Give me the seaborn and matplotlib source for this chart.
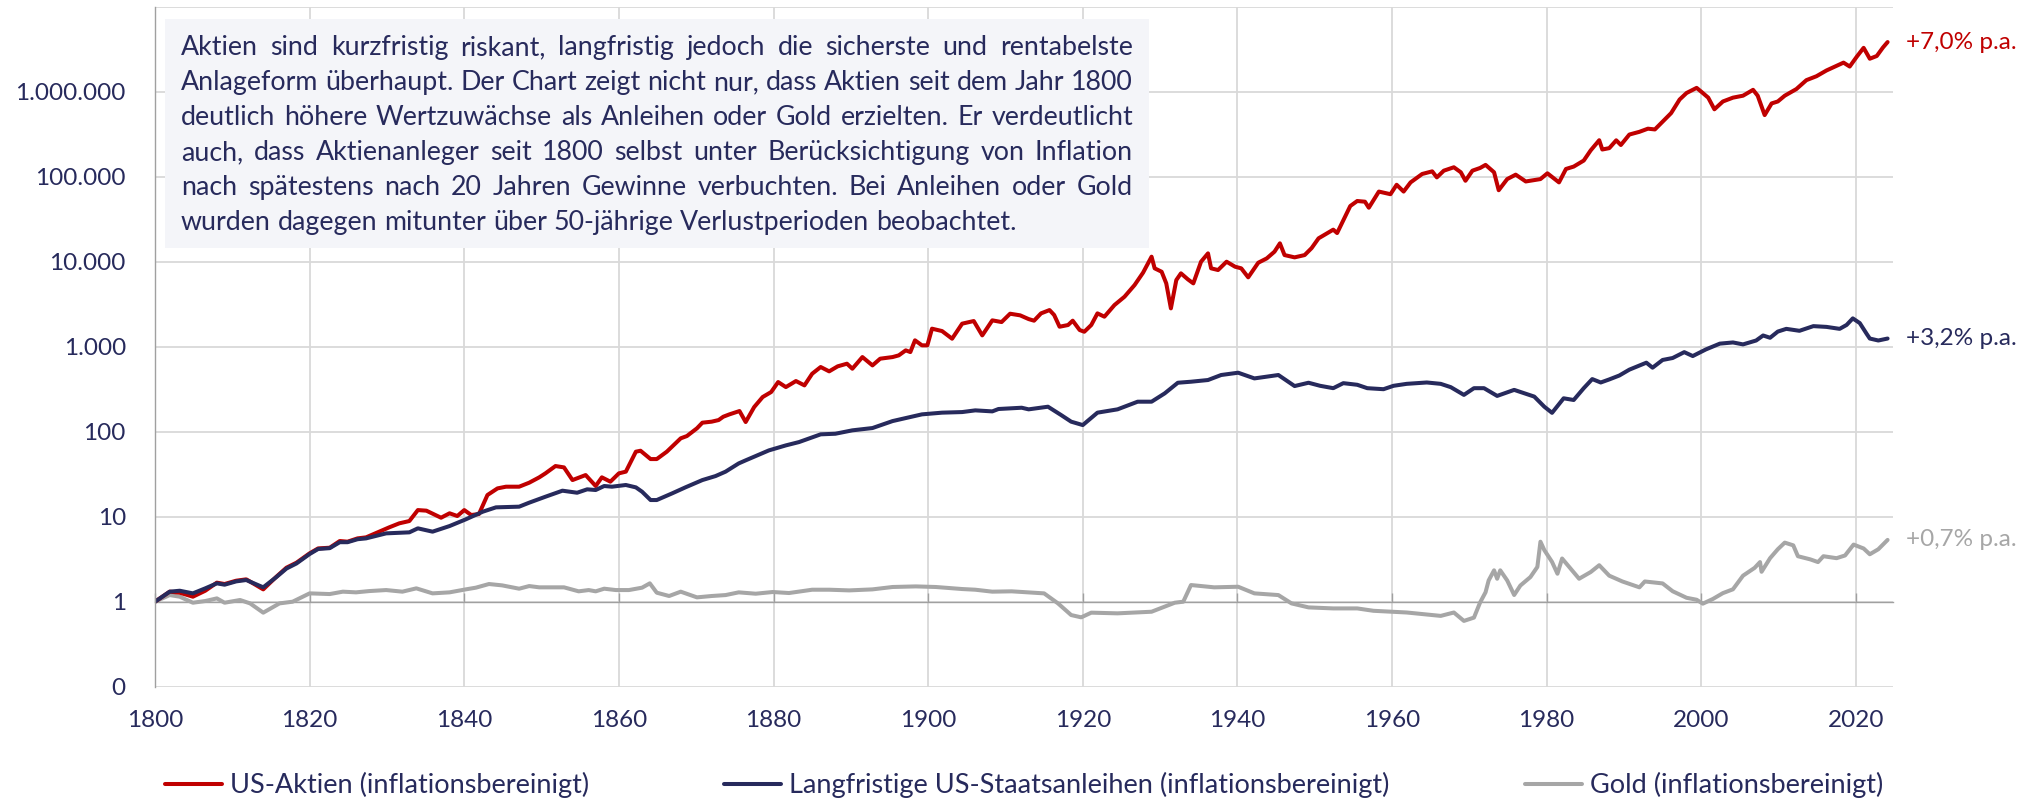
import numpy as np
import seaborn as sns
import matplotlib.pyplot as plt
from matplotlib.patches import Rectangle
from matplotlib.ticker import NullLocator

# --- data (values as log10 of index, start 1800 = 1) ---
aktien_jahr = [
    1800, 1801.9, 1803.2, 1804.9, 1806.5, 1808.0, 1809.0, 1810.5, 1811.8, 1814.0,
    1815.7, 1817.0, 1818.3, 1820.0, 1821.1, 1822.6, 1823.9, 1824.9, 1826.2, 1827.3,
    1829.0, 1830.3, 1831.6, 1832.9, 1834.0, 1835.1, 1837.0, 1838.1, 1839.1, 1840.0,
    1840.9, 1841.9, 1843.0, 1844.3, 1845.4, 1847.1, 1848.4, 1849.7, 1850.5, 1851.8,
    1852.9, 1854.0, 1855.7, 1857.0, 1857.8, 1858.9, 1860.0, 1860.9, 1862.2, 1862.8,
    1864.1, 1864.9, 1866.2, 1868.0, 1868.8, 1870.1, 1870.8, 1872.0, 1872.9, 1873.5,
    1874.3, 1875.6, 1876.4, 1877.5, 1878.6, 1879.7, 1880.6, 1881.6, 1882.9, 1884.0,
    1885.0, 1886.1, 1887.2, 1888.3, 1889.5, 1890.2, 1891.5, 1892.8, 1893.8, 1895.4,
    1896.2, 1897.1, 1897.7, 1898.3, 1899.2, 1899.9, 1900.5, 1901.8, 1903.1, 1904.4,
    1905.9, 1907.0, 1908.3, 1909.5, 1910.6, 1911.9, 1913.0, 1913.7, 1914.6, 1915.7,
    1916.3, 1917.0, 1918.1, 1918.7, 1919.6, 1920.2, 1921.1, 1921.9, 1922.8, 1924.1,
    1925.4, 1926.7, 1927.8, 1928.9, 1929.3, 1930.2, 1930.8, 1931.4, 1932.1, 1932.7,
    1933.6, 1934.3, 1935.3, 1936.2, 1936.6, 1937.5, 1938.6, 1939.7, 1940.5, 1941.4,
    1942.7, 1943.8, 1944.8, 1945.5, 1946.1, 1947.4, 1948.7, 1949.6, 1950.5, 1952.4,
    1952.9, 1954.6, 1955.5, 1956.5, 1957.0, 1958.3, 1959.8, 1960.6, 1961.5, 1962.4,
    1963.9, 1965.2, 1965.8, 1966.7, 1968.0, 1968.9, 1969.5, 1970.4, 1971.4, 1972.1,
    1973.2, 1973.8, 1974.9, 1976.0, 1977.3, 1979.2, 1980.1, 1981.6, 1982.5, 1983.5,
    1984.8, 1985.7, 1986.8, 1987.2, 1988.1, 1989.0, 1989.6, 1990.7, 1992.0, 1993.1,
    1994.0, 1995.0, 1996.1, 1997.2, 1998.1, 1999.4, 2000.0, 2000.9, 2001.7, 2002.8,
    2004.1, 2005.4, 2006.7, 2007.3, 2008.2, 2009.1, 2009.9, 2010.8, 2012.3, 2013.6,
    2014.9, 2016.2, 2017.5, 2018.4, 2019.2, 2020.1, 2021.0, 2021.8, 2022.7, 2023.5,
    2024.1,
]
aktien_log10 = [
    0.0, 0.118, 0.106, 0.059, 0.129, 0.224, 0.208, 0.247, 0.263, 0.145,
    0.294, 0.400, 0.459, 0.569, 0.627, 0.635, 0.714, 0.706, 0.745, 0.757,
    0.824, 0.875, 0.922, 0.949, 1.078, 1.071, 0.988, 1.040, 1.008, 1.078,
    1.020, 1.031, 1.255, 1.333, 1.353, 1.353, 1.400, 1.463, 1.510, 1.596,
    1.580, 1.431, 1.490, 1.361, 1.463, 1.412, 1.510, 1.530, 1.765, 1.776,
    1.678, 1.678, 1.765, 1.922, 1.949, 2.040, 2.106, 2.118, 2.137, 2.176,
    2.204, 2.243, 2.114, 2.290, 2.408, 2.467, 2.584, 2.525, 2.596, 2.545,
    2.682, 2.761, 2.710, 2.769, 2.800, 2.741, 2.878, 2.780, 2.859, 2.878,
    2.898, 2.957, 2.937, 3.075, 3.016, 3.016, 3.212, 3.184, 3.094, 3.271,
    3.302, 3.133, 3.310, 3.290, 3.388, 3.369, 3.325, 3.306, 3.392, 3.431,
    3.373, 3.235, 3.255, 3.306, 3.196, 3.176, 3.255, 3.392, 3.353, 3.490,
    3.588, 3.725, 3.871, 4.059, 3.922, 3.882, 3.745, 3.451, 3.784, 3.863,
    3.792, 3.745, 4.000, 4.098, 3.922, 3.902, 4.000, 3.941, 3.922, 3.816,
    3.988, 4.039, 4.118, 4.216, 4.078, 4.051, 4.078, 4.160, 4.275, 4.377,
    4.337, 4.655, 4.714, 4.706, 4.635, 4.825, 4.794, 4.905, 4.825, 4.933,
    5.032, 5.063, 4.992, 5.071, 5.111, 5.052, 4.952, 5.071, 5.103, 5.139,
    5.052, 4.841, 4.972, 5.024, 4.944, 4.972, 5.040, 4.933, 5.091, 5.119,
    5.190, 5.310, 5.429, 5.320, 5.336, 5.428, 5.373, 5.496, 5.528, 5.565,
    5.556, 5.647, 5.748, 5.908, 5.985, 6.045, 6.000, 5.930, 5.793, 5.885,
    5.930, 5.953, 6.022, 5.953, 5.725, 5.862, 5.885, 5.953, 6.031, 6.136,
    6.182, 6.250, 6.305, 6.342, 6.296, 6.410, 6.516, 6.388, 6.420, 6.520,
    6.584,
]

anleihen_jahr = [
    1800, 1801.9, 1803.2, 1804.9, 1806.5, 1808.0, 1809.0, 1810.5, 1811.8, 1814.0,
    1815.7, 1817.0, 1818.3, 1820.0, 1821.1, 1822.6, 1823.9, 1824.9, 1826.2, 1827.3,
    1829.9, 1832.9, 1834.0, 1835.9, 1838.1, 1840.2, 1842.4, 1844.1, 1847.1, 1848.4,
    1850.5, 1852.7, 1854.6, 1855.9, 1857.0, 1858.1, 1859.1, 1860.9, 1862.2, 1863.0,
    1864.1, 1864.9, 1866.9, 1868.6, 1870.8, 1872.5, 1873.8, 1875.5, 1876.4, 1879.4,
    1881.6, 1883.3, 1886.1, 1888.0, 1890.2, 1892.8, 1895.4, 1899.2, 1901.8, 1904.4,
    1906.1, 1908.3, 1909.1, 1912.1, 1913.0, 1915.5, 1917.2, 1918.5, 1920.0, 1921.9,
    1924.5, 1927.1, 1928.9, 1930.6, 1932.3, 1934.0, 1936.2, 1937.9, 1940.1, 1942.2,
    1945.3, 1947.4, 1949.2, 1950.7, 1952.4, 1953.7, 1955.5, 1956.8, 1958.9, 1960.2,
    1961.9, 1964.5, 1966.3, 1967.6, 1969.3, 1970.6, 1971.9, 1973.6, 1975.8, 1978.4,
    1979.7, 1980.7, 1982.2, 1983.5, 1984.8, 1985.9, 1987.0, 1988.1, 1989.4, 1990.7,
    1992.9, 1993.7, 1995.0, 1996.3, 1997.8, 1998.9, 2000.6, 2002.4, 2004.1, 2005.4,
    2007.1, 2008.0, 2008.9, 2009.9, 2011.0, 2012.7, 2014.5, 2016.2, 2017.9, 2018.8,
    2019.6, 2020.5, 2021.4, 2021.8, 2022.9, 2024.1,
]
anleihen_log10 = [
    0.0, 0.118, 0.129, 0.098, 0.157, 0.216, 0.200, 0.239, 0.255, 0.169,
    0.290, 0.390, 0.450, 0.561, 0.620, 0.630, 0.700, 0.700, 0.735, 0.745,
    0.804, 0.816, 0.863, 0.824, 0.890, 0.969, 1.059, 1.110, 1.118, 1.165,
    1.235, 1.306, 1.282, 1.322, 1.314, 1.361, 1.353, 1.373, 1.345, 1.294,
    1.196, 1.196, 1.275, 1.345, 1.431, 1.478, 1.530, 1.627, 1.663, 1.780,
    1.839, 1.878, 1.969, 1.976, 2.016, 2.043, 2.125, 2.204, 2.224, 2.231,
    2.251, 2.239, 2.267, 2.282, 2.263, 2.294, 2.196, 2.118, 2.078, 2.224,
    2.263, 2.353, 2.353, 2.451, 2.576, 2.588, 2.608, 2.667, 2.694, 2.627,
    2.667, 2.537, 2.576, 2.540, 2.512, 2.571, 2.552, 2.512, 2.500, 2.540,
    2.563, 2.579, 2.563, 2.524, 2.433, 2.512, 2.512, 2.421, 2.492, 2.413,
    2.294, 2.222, 2.393, 2.373, 2.512, 2.619, 2.579, 2.615, 2.661, 2.730,
    2.812, 2.753, 2.844, 2.867, 2.936, 2.890, 2.968, 3.036, 3.050, 3.027,
    3.073, 3.132, 3.105, 3.178, 3.210, 3.187, 3.242, 3.233, 3.210, 3.256,
    3.333, 3.278, 3.150, 3.096, 3.073, 3.096,
]

gold_jahr = [
    1800, 1801.9, 1803.2, 1804.9, 1806.5, 1808.0, 1809.0, 1811.0, 1812.3, 1814.0,
    1816.1, 1817.8, 1820.0, 1822.6, 1824.3, 1826.0, 1827.7, 1829.9, 1832.0, 1833.8,
    1835.9, 1838.1, 1840.2, 1841.5, 1843.2, 1844.9, 1847.1, 1848.4, 1849.7, 1852.9,
    1854.8, 1856.1, 1857.0, 1858.1, 1859.6, 1861.3, 1863.0, 1864.0, 1864.9, 1866.5,
    1868.0, 1870.1, 1872.0, 1873.8, 1875.5, 1877.7, 1879.9, 1882.0, 1885.0, 1887.2,
    1889.8, 1892.8, 1895.4, 1898.4, 1901.0, 1904.4, 1906.1, 1908.3, 1910.8, 1913.0,
    1915.0, 1916.8, 1918.5, 1919.8, 1921.1, 1924.5, 1928.9, 1931.9, 1933.0, 1934.0,
    1937.0, 1940.1, 1942.2, 1945.3, 1947.0, 1949.2, 1952.4, 1955.5, 1957.6, 1961.9,
    1966.3, 1968.0, 1969.3, 1970.6, 1971.4, 1972.1, 1972.5, 1973.2, 1973.6, 1974.0,
    1974.9, 1975.8, 1976.6, 1977.9, 1978.8, 1979.2, 1979.7, 1980.7, 1981.4, 1982.0,
    1983.1, 1984.2, 1985.7, 1986.8, 1988.1, 1989.8, 1992.0, 1992.7, 1995.0, 1996.3,
    1998.1, 1999.4, 2000.2, 2001.5, 2002.8, 2004.1, 2005.4, 2006.9, 2007.6, 2007.8,
    2008.9, 2009.9, 2010.8, 2011.9, 2012.5, 2014.1, 2015.1, 2015.8, 2017.5, 2018.6,
    2019.7, 2021.0, 2021.8, 2022.9, 2024.1,
]
gold_log10 = [
    0.0, 0.078, 0.059, -0.012, 0.008, 0.039, -0.012, 0.020, -0.020, -0.129,
    -0.020, 0.000, 0.098, 0.090, 0.118, 0.110, 0.125, 0.137, 0.118, 0.157,
    0.098, 0.110, 0.145, 0.165, 0.208, 0.192, 0.153, 0.184, 0.169, 0.169,
    0.122, 0.137, 0.122, 0.153, 0.137, 0.137, 0.165, 0.216, 0.106, 0.067,
    0.118, 0.051, 0.067, 0.078, 0.110, 0.094, 0.114, 0.102, 0.141, 0.141,
    0.133, 0.145, 0.173, 0.180, 0.173, 0.149, 0.141, 0.118, 0.122, 0.110,
    0.098, -0.020, -0.157, -0.184, -0.129, -0.137, -0.118, -0.012, 0.000, 0.196,
    0.169, 0.176, 0.098, 0.078, -0.020, -0.067, -0.079, -0.079, -0.107, -0.127,
    -0.167, -0.127, -0.226, -0.187, -0.008, 0.111, 0.250, 0.369, 0.270, 0.369,
    0.250, 0.079, 0.190, 0.290, 0.409, 0.706, 0.607, 0.468, 0.329, 0.508,
    0.389, 0.270, 0.349, 0.429, 0.306, 0.238, 0.169, 0.238, 0.215, 0.123,
    0.046, 0.023, -0.023, 0.032, 0.101, 0.146, 0.306, 0.398, 0.466, 0.352,
    0.512, 0.617, 0.695, 0.663, 0.535, 0.498, 0.466, 0.535, 0.512, 0.544,
    0.672, 0.626, 0.558, 0.617, 0.727,
]

serien = ["US-Aktien (inflationsbereinigt)",
          "Langfristige US-Staatsanleihen (inflationsbereinigt)",
          "Gold (inflationsbereinigt)"]
rendite_labels = ["+7,0% p.a.", "+3,2% p.a.", "+0,7% p.a."]

x_ticks = [1800, 1820, 1840, 1860, 1880, 1900, 1920, 1940, 1960, 1980, 2000, 2020]
x_tick_labels = [str(j) for j in x_ticks]
y_ticks = [0.1, 1, 10, 100, 1e3, 1e4, 1e5, 1e6, 1e7]
y_tick_labels = ["0", "1", "10", "100", "1.000", "10.000", "100.000", "1.000.000", ""]

box_lines = [
    "Aktien sind kurzfristig riskant, langfristig jedoch die sicherste und rentabelste",
    "Anlageform überhaupt. Der Chart zeigt nicht nur, dass Aktien seit dem Jahr 1800",
    "deutlich höhere Wertzuwächse als Anleihen oder Gold erzielten. Er verdeutlicht",
    "auch, dass Aktienanleger seit 1800 selbst unter Berücksichtigung von Inflation",
    "nach spätestens nach 20 Jahren Gewinne verbuchten. Bei Anleihen oder Gold",
    "wurden dagegen mitunter über 50-jährige Verlustperioden beobachtet.",
]

# --- style ---
RED = "#C00000"
NAVY = "#272A5C"
GREY = "#A6A6A6"
GRID = "#D9D9D9"
AXIS = "#A0A0A0"
BOX = "#F4F5F9"
FS = 17.5
LEG_FS = 19.5

sns.set_theme(style="white")
plt.rcParams["font.family"] = ["Lato", "DejaVu Sans"]

W, H, DPI = 2037, 799, 100
fig = plt.figure(figsize=(W / DPI, H / DPI), dpi=DPI)
ax = fig.add_axes([155 / W, 1 - 686.7 / H, (1893 - 155) / W, 680 / H])

sns.lineplot(x=gold_jahr, y=np.power(10.0, gold_log10), color=GREY, lw=2.9,
             ax=ax, label=serien[2], sort=False, estimator=None)
sns.lineplot(x=aktien_jahr, y=np.power(10.0, aktien_log10), color=RED, lw=2.9,
             ax=ax, label=serien[0], sort=False, estimator=None)
sns.lineplot(x=anleihen_jahr, y=np.power(10.0, anleihen_log10), color=NAVY, lw=2.9,
             ax=ax, label=serien[1], sort=False, estimator=None)

ax.set_yscale("log")
ax.set_xlim(1800, 2024.8)
ax.set_ylim(0.1, 1e7)
ax.set_xticks(x_ticks)
ax.set_xticklabels(x_tick_labels)
ax.set_yticks(y_ticks)
ax.set_yticklabels(y_tick_labels)
ax.yaxis.set_minor_locator(NullLocator())
ax.set_xlabel("")
ax.set_ylabel("")
ax.grid(True, which="major", color=GRID, lw=1.3)
ax.set_axisbelow(True)

for s in ["top", "right", "bottom"]:
    ax.spines[s].set_visible(False)
ax.spines["left"].set_color(AXIS)
ax.spines["left"].set_linewidth(1.0)

ax.tick_params(axis="x", length=0, pad=17, labelsize=FS, labelcolor=NAVY)
ax.tick_params(axis="y", direction="in", length=7, width=1.0, color=AXIS,
               pad=21, labelsize=FS, labelcolor=NAVY)

# x axis crosses at 1
pos_one = (0 - np.log10(0.1)) / (np.log10(1e7) - np.log10(0.1))
sec = ax.secondary_xaxis(pos_one)
sec.set_xticks(x_ticks)
sec.tick_params(axis="x", direction="in", length=6.5, width=1.0, color=AXIS,
                labelbottom=False, labeltop=False)
sec.spines["bottom"].set_color(AXIS)
sec.spines["bottom"].set_linewidth(1.0)
sec.set_zorder(1)

# end labels
ends = [(aktien_jahr, aktien_log10, RED), (anleihen_jahr, anleihen_log10, NAVY),
        (gold_jahr, gold_log10, GREY)]
for (jx, lg, c), txt in zip(ends, rendite_labels):
    ax.annotate(txt, xy=(jx[-1], 10 ** lg[-1]), xytext=(13, 0),
                textcoords="offset points", va="center", ha="left",
                color=c, fontsize=FS, annotation_clip=False)

# legend
handles, labels = ax.get_legend_handles_labels()
order = [labels.index(s) for s in serien]
ax.legend([handles[i] for i in order], [labels[i] for i in order],
          loc="center", bbox_to_anchor=(1024 / W, 1 - 785 / H),
          bbox_transform=fig.transFigure, ncol=3, frameon=False,
          handlelength=2.1, handletextpad=0.3, columnspacing=5.0,
          fontsize=LEG_FS, labelcolor=NAVY, borderpad=0)

# text box with justified text
fig.add_artist(Rectangle((165 / W, 1 - 248 / H), (1149 - 165) / W, (248 - 19) / H,
                         transform=fig.transFigure, facecolor=BOX,
                         edgecolor="none", zorder=3))
renderer = fig.canvas.get_renderer()
left, right = 181, 1133


def text_width(s, size):
    t = fig.text(0, 0, s, fontsize=size)
    w = t.get_window_extent(renderer).width
    t.remove()
    return w


widest = max(text_width(line, FS) for line in box_lines)
box_fs = FS * (right - left - 4) / widest
space_w = text_width("x x", box_fs) - text_width("xx", box_fs)

for i, line in enumerate(box_lines):
    baseline = 55 + 35 * i
    words = line.split()
    arts = [fig.text(0, 0, w, fontsize=box_fs, color=NAVY, va="baseline",
                     ha="left", zorder=4) for w in words]
    widths = [a.get_window_extent(renderer).width for a in arts]
    if i < len(box_lines) - 1:
        gap = (right - left - sum(widths)) / (len(words) - 1)
    else:
        gap = space_w
    x = left
    for a, wpx in zip(arts, widths):
        a.set_position((x / W, 1 - baseline / H))
        x += wpx + gap

fig.savefig("out.png", dpi=DPI)
